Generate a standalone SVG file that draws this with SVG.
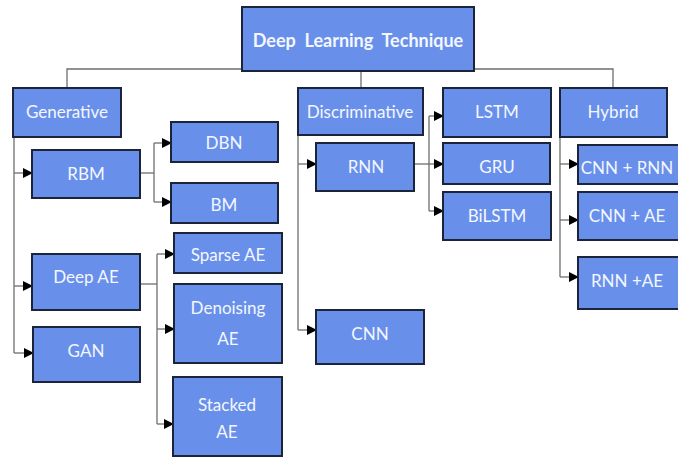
<svg xmlns="http://www.w3.org/2000/svg" width="678" height="460" viewBox="0 0 678 460">
<defs>
<marker id="ah" markerWidth="10" markerHeight="10" refX="9" refY="5" orient="auto" markerUnits="userSpaceOnUse">
<path d="M0,0 L10,5 L0,10 Z" fill="#000"/>
</marker>
<style>
.n{fill:#6890EA;stroke:#1B2438;stroke-width:2}
.t{font-family:Lato,"Open Sans","Liberation Sans",sans-serif;font-size:17px;fill:#F4F7FF;text-anchor:middle;dominant-baseline:central}
.h{font-weight:bold;font-size:18px}
.c{fill:none;stroke:#6E6E6E;stroke-width:1.3}
.a{marker-end:url(#ah)}
</style>
</defs>
<rect width="678" height="460" fill="#FFFFFF"/>
<g id="connectors">
<path class="c" d="M242,69 H67 V88"/>
<path class="c" d="M361,71 V88"/>
<path class="c" d="M474,69 H613 V88"/>
<path class="c" d="M14,137 V353"/>
<path class="c a" d="M14,173 H32"/>
<path class="c a" d="M14,286 H32"/>
<path class="c a" d="M14,353 H33"/>
<path class="c" d="M140,173 H154"/>
<path class="c" d="M154,143 V202"/>
<path class="c a" d="M154,143 H171"/>
<path class="c a" d="M154,202 H171"/>
<path class="c" d="M140,284 H157"/>
<path class="c" d="M157,254 V424"/>
<path class="c a" d="M157,254 H174"/>
<path class="c a" d="M157,329 H174"/>
<path class="c a" d="M157,424 H173"/>
<path class="c" d="M298,135 V330"/>
<path class="c a" d="M298,164 H316"/>
<path class="c a" d="M298,330 H316"/>
<path class="c" d="M414,164 H429"/>
<path class="c" d="M429,116 V211"/>
<path class="c a" d="M429,116 H443"/>
<path class="c a" d="M429,164 H443"/>
<path class="c a" d="M429,211 H443"/>
<path class="c" d="M560,137 V277"/>
<path class="c a" d="M560,164 H578"/>
<path class="c a" d="M560,220 H578"/>
<path class="c a" d="M560,277 H578"/>
</g>
<g id="root"><rect class="n" x="242" y="7" width="232" height="64"/><text class="t h" x="358" y="40" xml:space="preserve">Deep  Learning  Technique</text></g>
<g id="generative"><rect class="n" x="13" y="88" width="108" height="49"/><text class="t" x="67" y="111">Generative</text></g>
<g id="discriminative"><rect class="n" x="298" y="88" width="125" height="47"/><text class="t" x="360" y="111">Discriminative</text></g>
<g id="lstm"><rect class="n" x="443" y="88" width="108" height="49"/><text class="t" x="497" y="111">LSTM</text></g>
<g id="hybrid"><rect class="n" x="560" y="88" width="107" height="49"/><text class="t" x="613" y="111">Hybrid</text></g>
<g id="rbm"><rect class="n" x="32" y="150" width="108" height="48"/><text class="t" x="86" y="173">RBM</text></g>
<g id="dbn"><rect class="n" x="171" y="122" width="107" height="40"/><text class="t" x="224" y="142">DBN</text></g>
<g id="bm"><rect class="n" x="171" y="183" width="107" height="40"/><text class="t" x="224" y="204">BM</text></g>
<g id="sparse-ae"><rect class="n" x="174" y="233" width="108" height="40"/><text class="t" x="228" y="254">Sparse AE</text></g>
<g id="deep-ae"><rect class="n" x="32" y="254" width="108" height="56"/><text class="t" x="86" y="276">Deep AE</text></g>
<g id="denoising-ae"><rect class="n" x="174" y="284" width="108" height="79"/><text class="t" x="228" y="307">Denoising</text><text class="t" x="228" y="338">AE</text></g>
<g id="stacked-ae"><rect class="n" x="173" y="377" width="109" height="79"/><text class="t" x="227" y="404">Stacked</text><text class="t" x="227" y="431">AE</text></g>
<g id="gan"><rect class="n" x="33" y="327" width="107" height="55"/><text class="t" x="86" y="350">GAN</text></g>
<g id="rnn"><rect class="n" x="316" y="143" width="98" height="48"/><text class="t" x="366" y="166">RNN</text></g>
<g id="cnn"><rect class="n" x="316" y="310" width="108" height="54"/><text class="t" x="370" y="333">CNN</text></g>
<g id="gru"><rect class="n" x="443" y="143" width="107" height="41"/><text class="t" x="497" y="166">GRU</text></g>
<g id="bilstm"><rect class="n" x="443" y="192" width="108" height="48"/><text class="t" x="497" y="215">BiLSTM</text></g>
<g id="cnn-rnn"><rect class="n" x="578" y="145" width="102" height="39"/><text class="t" x="627" y="167">CNN + RNN</text></g>
<g id="cnn-ae"><rect class="n" x="578" y="192" width="102" height="48"/><text class="t" x="627" y="215">CNN + AE</text></g>
<g id="rnn-ae"><rect class="n" x="578" y="257" width="102" height="52"/><text class="t" x="627" y="280">RNN +AE</text></g>
</svg>
